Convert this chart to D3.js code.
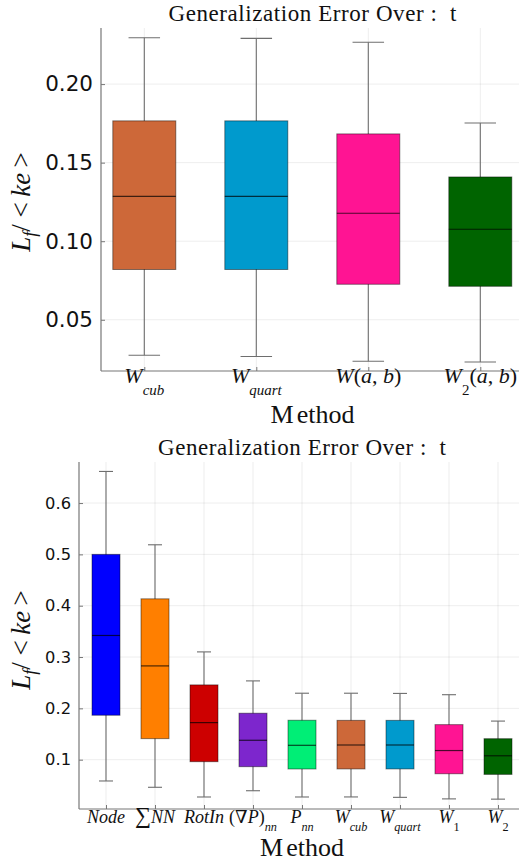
<!DOCTYPE html>
<html>
<head>
<meta charset="utf-8">
<script src="https://cdn.jsdelivr.net/npm/d3@7"></script>
<style>
  body { margin: 0; background: #fff; }
  svg { display: block; }
  .serif { font-family: "Liberation Serif", "Times New Roman", "DejaVu Serif", serif; }
  .sans { font-family: "DejaVu Sans", sans-serif; }
</style>
</head>
<body>
<div id="chart"></div>
<script>
// ---- top panel data ----
const topMethods = ["W_{cub}", "W_{quart}", "W(a, b)", "W_{2}(a, b)"];
const topLow    = [0.0274, 0.0266, 0.0236, 0.0231];
const topQ1     = [0.0820, 0.0820, 0.0726, 0.0713];
const topMedian = [0.1286, 0.1286, 0.1178, 0.1076];
const topQ3     = [0.1766, 0.1766, 0.1683, 0.1409];
const topHigh   = [0.2295, 0.2291, 0.2266, 0.1752];
const topTicks  = [0.05, 0.10, 0.15, 0.20];
const topColors = ["#CD6839", "#009ACD", "#FF1493", "#006400"];

// ---- bottom panel data ----
const bottomMethods = ["Node", "∑NN", "RotIn", "(∇P)_{nn}", "P_{nn}", "W_{cub}", "W_{quart}", "W_{1}", "W_{2}"];
const bottomLow    = [0.0585, 0.0462, 0.0273, 0.0395, 0.0273, 0.0274, 0.0266, 0.0236, 0.0231];
const bottomQ1     = [0.1866, 0.1410, 0.0961, 0.0864, 0.0819, 0.0820, 0.0820, 0.0726, 0.0713];
const bottomMedian = [0.3420, 0.2827, 0.1722, 0.1378, 0.1280, 0.1286, 0.1286, 0.1178, 0.1076];
const bottomQ3     = [0.5000, 0.4134, 0.2457, 0.1905, 0.1768, 0.1766, 0.1766, 0.1683, 0.1409];
const bottomHigh   = [0.6616, 0.5187, 0.3100, 0.2535, 0.2295, 0.2295, 0.2291, 0.2266, 0.1752];
const bottomTicks  = [0.1, 0.2, 0.3, 0.4, 0.5, 0.6];
const bottomColors = ["#0000FF", "#FF7F00", "#CD0000", "#7D26CD", "#00EE76", "#CD6839", "#009ACD", "#FF1493", "#006400"];

const titleText = "Generalization Error Over :  t";
const xLabelText = "Method";
const yLabelText = "L_{f}/ <\u2009ke\u2009>";

const W = 519, H = 865;

const svg = d3.select("#chart").append("svg")
    .attr("width", W)
    .attr("height", H);

// write math-ish text: letters italic, rest upright, _{..} as subscript
function addMath(text, str, shift) {
    const parts = [];
    str.replace(/_\{([^}]*)\}|([^_]+)/g, (m, sub, normal) => {
        parts.push(sub !== undefined ? {s: sub, sub: true} : {s: normal, sub: false});
        return m;
    });
    let offset = 0;
    parts.forEach(part => {
        const runs = [];
        for (const ch of part.s) {
            const it = /[A-Za-z]/.test(ch);
            if (runs.length && runs[runs.length - 1].it === it) runs[runs.length - 1].t += ch;
            else runs.push({t: ch, it: it});
        }
        runs.forEach(r => {
            const target = part.sub ? shift : 0;
            const ts = text.append("tspan")
                .style("font-style", r.it ? "italic" : "normal")
                .text(r.t);
            if (part.sub) ts.style("font-size", "0.68em");
            if (r.t === "∑") ts.style("font-size", "1.25em");
            if (target !== offset) {
                ts.attr("dy", target - offset);
                offset = target;
            }
        });
    });
}

function drawPanel(p) {
    const g = svg.append("g");

    const x = d3.scalePoint()
        .domain(p.methods)
        .range(p.xRange);

    const y = d3.scaleLinear()
        .domain(p.yDomain)
        .range([p.bottom, p.top]);

    const rows = p.methods.map((m, i) => ({
        method: m, low: p.low[i], q1: p.q1[i], median: p.median[i],
        q3: p.q3[i], high: p.high[i], color: p.colors[i]
    }));

    // grid
    g.selectAll(".hgrid")
        .data(p.ticks)
        .join("line")
        .attr("x1", p.left).attr("x2", W)
        .attr("y1", d => y(d)).attr("y2", d => y(d))
        .attr("stroke", "#000").attr("stroke-opacity", 0.07);

    g.selectAll(".vgrid")
        .data(p.methods)
        .join("line")
        .attr("x1", d => x(d)).attr("x2", d => x(d))
        .attr("y1", p.top).attr("y2", p.bottom)
        .attr("stroke", "#000").attr("stroke-opacity", 0.07);

    // whiskers
    const box = g.selectAll(".box")
        .data(rows)
        .join("g")
        .attr("class", "box");

    box.append("line")
        .attr("x1", d => x(d.method)).attr("x2", d => x(d.method))
        .attr("y1", d => y(d.low)).attr("y2", d => y(d.high))
        .attr("stroke", "#6e6e6e").attr("stroke-width", 1.1);

    box.selectAll(".cap")
        .data(d => [d.low, d.high].map(v => ({m: d.method, v: v})))
        .join("line")
        .attr("x1", d => x(d.m) - p.boxWidth / 4).attr("x2", d => x(d.m) + p.boxWidth / 4)
        .attr("y1", d => y(d.v)).attr("y2", d => y(d.v))
        .attr("stroke", "#6e6e6e").attr("stroke-width", 1.1);

    box.append("rect")
        .attr("x", d => x(d.method) - p.boxWidth / 2)
        .attr("width", p.boxWidth)
        .attr("y", d => y(d.q3))
        .attr("height", d => y(d.q1) - y(d.q3))
        .attr("fill", d => d.color)
        .attr("stroke", "#000").attr("stroke-opacity", 0.45).attr("stroke-width", 1);

    box.append("line")
        .attr("x1", d => x(d.method) - p.boxWidth / 2).attr("x2", d => x(d.method) + p.boxWidth / 2)
        .attr("y1", d => y(d.median)).attr("y2", d => y(d.median))
        .attr("stroke", "#000").attr("stroke-opacity", 0.7).attr("stroke-width", 1.2);

    // y axis
    const yAxis = g.append("g")
        .attr("transform", "translate(" + p.left + ",0)")
        .call(d3.axisLeft(y)
            .tickValues(p.ticks)
            .tickFormat(d3.format(p.fmt))
            .tickSize(-4)
            .tickSizeOuter(0)
            .tickPadding(8));
    yAxis.select(".domain").remove();
    yAxis.selectAll("line").attr("stroke", "#777");
    yAxis.selectAll("text")
        .attr("class", "sans")
        .attr("font-family", null)
        .style("font-size", p.tickFont + "px")
        .attr("fill", "#111");

    // x axis ticks
    const xAxis = g.append("g")
        .attr("transform", "translate(0," + p.bottom + ")")
        .call(d3.axisBottom(x).tickSize(-4).tickSizeOuter(0).tickFormat(""));
    xAxis.select(".domain").remove();
    xAxis.selectAll("line").attr("stroke", "#777");

    // spines
    g.append("line")
        .attr("x1", p.left).attr("x2", p.left)
        .attr("y1", p.top).attr("y2", p.bottom)
        .attr("stroke", "#777").attr("stroke-width", 1.2);
    g.append("line")
        .attr("x1", p.left).attr("x2", W)
        .attr("y1", p.bottom).attr("y2", p.bottom)
        .attr("stroke", "#777").attr("stroke-width", 1.2);

    // category labels
    g.selectAll(".xlab")
        .data(rows)
        .join("text")
        .attr("class", "serif")
        .attr("x", d => x(d.method))
        .attr("y", p.labelBaseline)
        .attr("text-anchor", "middle")
        .style("font-size", p.labelFont + "px")
        .attr("fill", "#111")
        .each(function(d) { addMath(d3.select(this), d.method, p.subShift); });

    // title
    const cx = (p.left + p.right) / 2;
    g.append("text")
        .attr("class", "serif")
        .attr("x", cx)
        .attr("y", p.titleBaseline)
        .attr("text-anchor", "middle")
        .style("font-size", "23px")
        .attr("textLength", 288)
        .attr("lengthAdjust", "spacing")
        .attr("fill", "#111")
        .style("white-space", "pre")
        .text(titleText);

    // x label
    const xl = g.append("text")
        .attr("class", "serif")
        .attr("x", cx)
        .attr("y", p.xLabelBaseline)
        .attr("text-anchor", "middle")
        .style("font-size", "26px")
        .attr("fill", "#111");
    xl.append("tspan").text(xLabelText[0]);
    xl.append("tspan").attr("dx", 3).text(xLabelText.slice(1));

    // y label
    const yl = g.append("text")
        .attr("class", "serif")
        .attr("transform", "translate(" + p.yLabelX + "," + p.yLabelY + ") rotate(-90)")
        .attr("text-anchor", "middle")
        .style("font-size", "27px")
        .attr("fill", "#111")
        .style("white-space", "pre");
    addMath(yl, yLabelText, 6);
}

drawPanel({
    methods: topMethods, low: topLow, q1: topQ1, median: topMedian, q3: topQ3, high: topHigh,
    colors: topColors, ticks: topTicks, fmt: ".2f",
    left: 101, right: 524, top: 28, bottom: 371,
    yDomain: [0.0174, 0.2357], xRange: [144.3, 480.3], boxWidth: 63,
    tickFont: 21.5, labelFont: 22, labelBaseline: 383, subShift: 12,
    titleBaseline: 21, xLabelBaseline: 423, yLabelX: 30, yLabelY: 202
});

drawPanel({
    methods: bottomMethods, low: bottomLow, q1: bottomQ1, median: bottomMedian, q3: bottomQ3, high: bottomHigh,
    colors: bottomColors, ticks: bottomTicks, fmt: ".1f",
    left: 79, right: 525, top: 462, bottom: 809,
    yDomain: [0.0039, 0.68], xRange: [106, 498], boxWidth: 28,
    tickFont: 16.3, labelFont: 18, labelBaseline: 823, subShift: 8,
    titleBaseline: 455, xLabelBaseline: 856, yLabelX: 30, yLabelY: 640
});
</script>
</body>
</html>
